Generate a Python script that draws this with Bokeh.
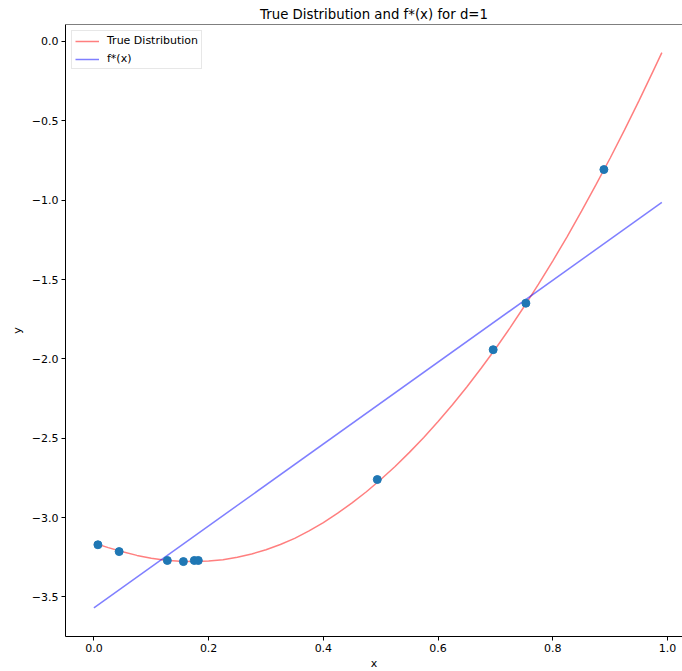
from bokeh.plotting import figure
from bokeh.models import FixedTicker, CustomJSTickFormatter, Span, Legend, LegendItem, Range1d
from bokeh.embed import file_html
from bokeh.resources import INLINE

# True distribution curve
true_x = [0.000, 0.025, 0.050, 0.075, 0.100, 0.125, 0.150, 0.175, 0.200, 0.225, 0.250,
          0.275, 0.300, 0.325, 0.350, 0.375, 0.400, 0.425, 0.450, 0.475, 0.500,
          0.525, 0.550, 0.575, 0.600, 0.625, 0.650, 0.675, 0.700, 0.725, 0.750,
          0.775, 0.800, 0.825, 0.850, 0.875, 0.900, 0.925, 0.950, 0.975, 0.990]
true_y = [-3.160, -3.189, -3.215, -3.238, -3.256, -3.268, -3.275, -3.277, -3.274, -3.265, -3.250,
          -3.229, -3.202, -3.169, -3.131, -3.084, -3.031, -2.972, -2.907, -2.837, -2.760,
          -2.678, -2.589, -2.495, -2.395, -2.289, -2.177, -2.059, -1.936, -1.806, -1.670,
          -1.529, -1.382, -1.229, -1.069, -0.904, -0.734, -0.557, -0.374, -0.185, -0.070]

# f*(x) fitted line (d=1)
fit_x = [0.00, 0.99]
fit_y = [-3.568, -1.014]

# sample points
pts_x = [0.007, 0.044, 0.128, 0.156, 0.175, 0.182, 0.494, 0.696, 0.753, 0.889]
pts_y = [-3.171, -3.214, -3.270, -3.277, -3.270, -3.270, -2.760, -1.942, -1.649, -0.807]

x_ticks = [0.0, 0.2, 0.4, 0.6, 0.8, 1.0]
y_ticks = [0.0, -0.5, -1.0, -1.5, -2.0, -2.5, -3.0, -3.5]

FONT = "DejaVu Sans"
Y_END = 0.107

p = figure(width=682, height=671, frame_width=617, frame_height=612,
           output_backend="svg", toolbar_location=None,
           x_range=Range1d(-0.0495, 1.026), y_range=Range1d(-3.749, Y_END),
           min_border_left=65, min_border_right=0, min_border_top=24, min_border_bottom=35)

p.title.text = "True Distribution and f*(x) for d=1"
p.title.align = "center"
p.title.text_font = FONT
p.title.text_font_size = "13.3px"
p.title.text_font_style = "normal"
p.title.text_color = "#000000"
p.title.offset = 0
p.title.standoff = 5

p.xgrid.visible = False
p.ygrid.visible = False
p.outline_line_color = None
p.background_fill_color = "white"
p.border_fill_color = "white"

p.add_layout(Span(location=Y_END, dimension="width", line_color="#000000", line_width=1))

fmt = CustomJSTickFormatter(code="return tick.toFixed(1).replace('-', '\\u2212');")
for ax, ticks, lab in ((p.xaxis[0], x_ticks, "x"), (p.yaxis[0], y_ticks, "y")):
    ax.ticker = FixedTicker(ticks=ticks)
    ax.formatter = fmt
    ax.axis_label = lab
    ax.axis_label_text_font = FONT
    ax.axis_label_text_font_size = "11px"
    ax.axis_label_text_font_style = "normal"
    ax.axis_label_text_color = "#000000"
    ax.major_label_text_font = FONT
    ax.major_label_text_font_size = "11px"
    ax.major_label_text_color = "#000000"
    ax.axis_line_color = "#000000"
    ax.major_tick_line_color = "#000000"
    ax.major_tick_out = 4
    ax.major_tick_in = 0
    ax.minor_tick_line_color = None
    ax.major_label_standoff = 3
    ax.axis_label_standoff = 2
p.yaxis[0].axis_label_standoff = 5

r_true = p.line(true_x, true_y, line_color="red", line_alpha=0.5, line_width=1.5)
r_fit = p.line(fit_x, fit_y, line_color="blue", line_alpha=0.5, line_width=1.5)
p.scatter(pts_x, pts_y, size=8, fill_color="#1f77b4", line_color="#1f77b4")

legend = Legend(items=[LegendItem(label="True Distribution", renderers=[r_true]),
                       LegendItem(label="f*(x)", renderers=[r_fit])],
                location="top_left")
legend.label_text_font = FONT
legend.label_text_font_size = "11px"
legend.label_text_color = "#000000"
legend.glyph_width = 24
legend.glyph_height = 12
legend.label_height = 12
legend.label_standoff = 8
legend.spacing = 5
legend.padding = 3
legend.margin = 6
legend.border_line_color = "#d0d0d0"
legend.border_line_width = 1
legend.background_fill_alpha = 0.8
p.add_layout(legend)

open("out.html", "w").write(file_html(p, INLINE))
